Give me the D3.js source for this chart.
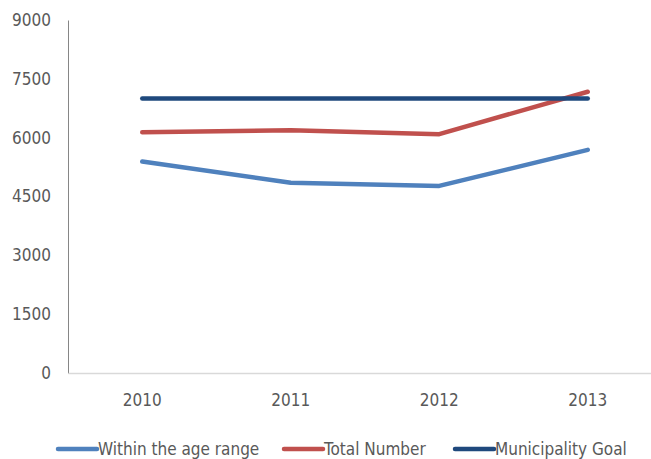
<!DOCTYPE html>
<html>
<head>
<meta charset="utf-8">
<script src="https://cdn.jsdelivr.net/npm/d3@7"></script>
<style>
  html, body { margin: 0; padding: 0; background: #fff; overflow: hidden; }
  svg text { font-family: "Liberation Sans Narrow", "DejaVu Sans Condensed", sans-serif; fill: #595959; }
</style>
</head>
<body>
<svg id="chart" width="651" height="459"></svg>
<script>
// Yearly counts per series
const years = ["2010", "2011", "2012", "2013"];
const withinAgeRange = [5390, 4850, 4770, 5690];
const totalNumber = [6140, 6190, 6090, 7170];
const municipalityGoal = [7000, 7000, 7000, 7000];
const yTicks = [0, 1500, 3000, 4500, 6000, 7500, 9000];

const seriesNames = ["Within the age range", "Total Number", "Municipality Goal"];
const seriesColors = ["#4f81bd", "#c0504d", "#1f497d"];
const seriesValues = [withinAgeRange, totalNumber, municipalityGoal];

const svg = d3.select("#chart");
const plot = { left: 68, right: 662, top: 20, bottom: 373 };
const fontSize = 17;

const x = d3.scaleBand().domain(years).range([plot.left, plot.right]);
const y = d3.scaleLinear().domain([0, 9000]).range([plot.bottom, plot.top]);

// Y axis: labels only, with a plain vertical rule
const yAxis = svg.append("g")
  .attr("transform", `translate(${plot.left},0)`)
  .call(d3.axisLeft(y).tickValues(yTicks).tickFormat(d3.format("d")).tickSize(0).tickPadding(17));
yAxis.select(".domain").attr("stroke", "#868686").attr("stroke-width", 1);
yAxis.selectAll("text").attr("font-size", fontSize);

// X axis
const xAxis = svg.append("g")
  .attr("transform", `translate(0,${plot.bottom})`)
  .call(d3.axisBottom(x).tickSize(0).tickPadding(21));
xAxis.select(".domain").attr("stroke", "#d9d9d9").attr("stroke-width", 1.5);
xAxis.selectAll("text").attr("font-size", fontSize);

// Series lines
const line = d3.line()
  .x((d, i) => x(years[i]) + x.bandwidth() / 2)
  .y(d => y(d));

seriesValues.forEach((vals, i) => {
  svg.append("path")
    .datum(vals)
    .attr("fill", "none")
    .attr("stroke", seriesColors[i])
    .attr("stroke-width", 4.5)
    .attr("stroke-linecap", "round")
    .attr("stroke-linejoin", "round")
    .attr("d", line);
});

// Legend
const legendX = [58, 284, 455];
const legendY = 449;
const legend = svg.append("g");
seriesNames.forEach((name, i) => {
  const g = legend.append("g").attr("transform", `translate(${legendX[i]},${legendY})`);
  g.append("line")
    .attr("x1", 0).attr("x2", 39)
    .attr("y1", 0).attr("y2", 0)
    .attr("stroke", seriesColors[i])
    .attr("stroke-width", 4.5)
    .attr("stroke-linecap", "round");
  g.append("text")
    .attr("x", 40).attr("y", 0)
    .attr("dy", "0.35em")
    .attr("font-size", fontSize)
    .text(name);
});
</script>
</body>
</html>
